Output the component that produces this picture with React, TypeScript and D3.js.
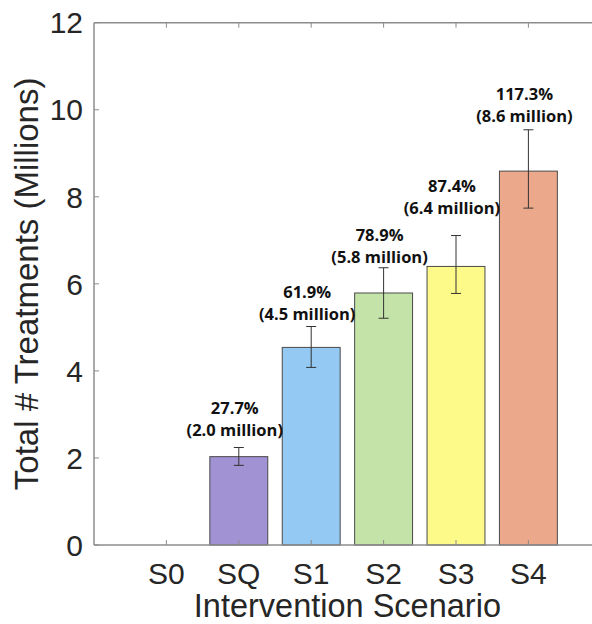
import React from "react";
import * as d3 from "d3";

// Scenario data (millions of treatments)
const categories = ["S0", "SQ", "S1", "S2", "S3", "S4"];
const totals = [0, 2.03, 4.54, 5.79, 6.4, 8.59];
const errLow = [0, 1.83, 4.08, 5.21, 5.78, 7.74];
const errHigh = [0, 2.24, 5.02, 6.37, 7.11, 9.54];
const pctIncrease = [null, 27.7, 61.9, 78.9, 87.4, 117.3];
// annotation anchor (data units) for the lower text line above each bar
const labelAnchor = [null, 2.5, 5.17, 6.47, 7.6, 9.71];
const barColors = ["#ffffff", "#a192d3", "#93c9f2", "#c4e3a9", "#fdfa89", "#eca88b"];
const yTicks = [0, 2, 4, 6, 8, 10, 12];

const W = 592;
const H = 624;
const left = 94;
const top = 22.7;
const bottom = 545;
const right = left + 7 * 72.4;

export default function App() {
  const x = d3.scaleLinear().domain([0, 7]).range([left, right]);
  const y = d3.scaleLinear().domain([0, 12]).range([bottom, top]);
  const step = x(1) - x(0);
  const barW = step * 0.8;
  const axisColor = "#8c8c8c";
  const textColor = "#262626";
  const tickLen = 5;

  return (
    <svg
      width={W}
      height={H}
      style={{ position: "fixed", left: 0, top: 0, background: "#fff" }}
      fontFamily="Liberation Sans, Arial, Helvetica, sans-serif"
    >
      <rect x={0} y={0} width={W} height={H} fill="#fff" />

      {/* bars */}
      {categories.map((c, i) =>
        totals[i] > 0 ? (
          <rect
            key={c}
            x={x(i + 1) - barW / 2}
            y={y(totals[i])}
            width={barW}
            height={y(0) - y(totals[i])}
            fill={barColors[i]}
            stroke="#4a4a4a"
            strokeWidth={1}
          />
        ) : null
      )}

      {/* error bars */}
      {categories.map((c, i) =>
        totals[i] > 0 ? (
          <g key={c + "-err"} stroke="#333" strokeWidth={1}>
            <line x1={x(i + 1)} x2={x(i + 1)} y1={y(errLow[i])} y2={y(errHigh[i])} />
            <line x1={x(i + 1) - 5} x2={x(i + 1) + 5} y1={y(errLow[i])} y2={y(errLow[i])} />
            <line x1={x(i + 1) - 5} x2={x(i + 1) + 5} y1={y(errHigh[i])} y2={y(errHigh[i])} />
          </g>
        ) : null
      )}

      {/* annotations */}
      {categories.map((c, i) =>
        pctIncrease[i] != null ? (
          <text
            key={c + "-lab"}
            x={x(i + 1) - 4}
            y={y(labelAnchor[i] as number)}
            textAnchor="middle"
            fontFamily="Open Sans, Noto Sans, sans-serif"
            fontWeight="bold"
            fontSize={16.5}
            fill="#111"
          >
            <tspan x={x(i + 1) - 4} dy={-22}>{`${(pctIncrease[i] as number).toFixed(1)}%`}</tspan>
            <tspan x={x(i + 1) - 4} dy={22}>{`(${totals[i].toFixed(1)} million)`}</tspan>
          </text>
        ) : null
      )}

      {/* axes box */}
      <g stroke={axisColor} strokeWidth={1.5} fill="none">
        <line x1={left} x2={right} y1={bottom} y2={bottom} />
        <line x1={left} x2={right} y1={top} y2={top} />
        <line x1={left} x2={left} y1={top} y2={bottom} />
        <line x1={right} x2={right} y1={top} y2={bottom} />
      </g>

      {/* y ticks */}
      {yTicks.map((t) => (
        <g key={"yt" + t}>
          <line x1={left} x2={left + tickLen} y1={y(t)} y2={y(t)} stroke={axisColor} strokeWidth={1} />
          <line x1={right} x2={right - tickLen} y1={y(t)} y2={y(t)} stroke={axisColor} strokeWidth={1} />
          <text x={left - 11} y={y(t) + 10.7} textAnchor="end" fontSize={30} fill={textColor}>
            {t}
          </text>
        </g>
      ))}

      {/* x ticks */}
      {categories.map((c, i) => (
        <g key={"xt" + c}>
          <line x1={x(i + 1)} x2={x(i + 1)} y1={bottom} y2={bottom - tickLen} stroke={axisColor} strokeWidth={1} />
          <line x1={x(i + 1)} x2={x(i + 1)} y1={top} y2={top + tickLen} stroke={axisColor} strokeWidth={1} />
          <text x={x(i + 1)} y={584} textAnchor="middle" fontSize={30} fill={textColor}>
            {c}
          </text>
        </g>
      ))}

      {/* axis titles */}
      <text x={(left + right) / 2} y={617} textAnchor="middle" fontSize={32.5} fill={textColor}>
        Intervention Scenario
      </text>
      <text
        transform={`translate(38, ${(top + bottom) / 2}) rotate(-90)`}
        textAnchor="middle"
        fontSize={33}
        fill={textColor}
      >
        Total # Treatments (Millions)
      </text>
    </svg>
  );
}
